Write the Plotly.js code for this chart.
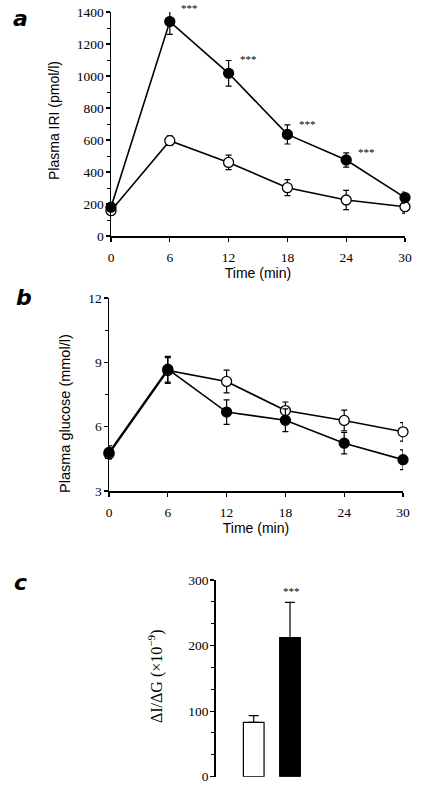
<!DOCTYPE html>
<html>
<head>
<meta charset="utf-8">
<script src="https://cdn.plot.ly/plotly-3.0.1.min.js"></script>
<style>html,body{margin:0;padding:0;background:#fff;}#chart{width:440px;height:790px;}</style>
</head>
<body>
<div id="chart"></div>
<script>
// ---- data ----
const timeMin = [0, 6, 12, 18, 24, 30];
const timeTicks = [0, 6, 12, 18, 24, 30];

const iriOpen = [158, 596, 460, 302, 225, 183];
const iriOpenErr = [15, 30, 45, 50, 60, 40];
const iriFilled = [180, 1340, 1017, 635, 475, 240];
const iriFilledErr = [20, 80, 80, 60, 45, 35];
const iriSignificant = [false, true, true, true, true, false];

const gluOpen = [4.73, 8.62, 8.11, 6.75, 6.29, 5.76];
const gluOpenErr = [0.2, 0.6, 0.53, 0.4, 0.48, 0.43];
const gluFilled = [4.8, 8.68, 6.68, 6.30, 5.23, 4.46];
const gluFilledErr = [0.3, 0.6, 0.57, 0.53, 0.5, 0.46];

const barGroups = [1, 2];
const ratioValues = [83, 212];
const ratioErr = [10, 54];
const ratioSignificant = [false, true];

// ---- helpers ----
const W = 440, H = 790;
const px = v => v / W;
const py = v => 1 - v / H;
const serif = '"Liberation Serif", serif';
const sans = '"Liberation Sans", Arial, sans-serif';

// panel a geometry (pixels)
const aTop = 12, aBottom = 236, aMax = 1400;
const aPxPerUnit = (aBottom - aTop) / aMax;

function seriesTrace(x, y, err, filled, xa, ya) {
  return {
    type: 'scatter', mode: 'lines+markers', x: x, y: y,
    xaxis: xa, yaxis: ya, cliponaxis: false, showlegend: false,
    line: {color: '#000', width: 1.6},
    marker: {size: 10, color: filled ? '#000' : '#fff', line: {color: '#000', width: 1.3}},
    error_y: {type: 'data', array: err, visible: true, color: '#000', thickness: 1.2, width: 3}
  };
}

const data = [
  seriesTrace(timeMin, iriOpen, iriOpenErr, false, 'x', 'y'),
  seriesTrace(timeMin, iriFilled, iriFilledErr, true, 'x', 'y'),
  seriesTrace(timeMin, gluOpen, gluOpenErr, false, 'x2', 'y2'),
  seriesTrace(timeMin, gluFilled, gluFilledErr, true, 'x2', 'y2'),
  {
    type: 'bar', x: barGroups, y: ratioValues, xaxis: 'x3', yaxis: 'y3', width: 0.57,
    showlegend: false, cliponaxis: false,
    marker: {color: ['#fff', '#000'], line: {color: '#000', width: 1.2}},
    error_y: {type: 'data', symmetric: false, array: ratioErr, arrayminus: [0, 0], visible: true,
              color: '#000', thickness: 1.2, width: 5}
  }
];

const tickFont = {family: serif, size: 13.5, color: '#000'};
const baseX = {
  showgrid: false, zeroline: false, showline: true, linecolor: '#000', linewidth: 1.5,
  ticks: 'outside', ticklen: 4, tickwidth: 1.2, tickcolor: '#000', tickfont: tickFont,
  ticklabelstandoff: 4,
  tickvals: timeTicks, range: [0, 30], fixedrange: true
};
const baseY = {
  showgrid: false, zeroline: false, showline: true, linecolor: '#000', linewidth: 1.5,
  ticks: 'outside', ticklen: 4, tickwidth: 1.2, tickcolor: '#000', tickfont: tickFont,
  ticklabelstandoff: -1,
  fixedrange: true
};

const annotations = [];
// panel letters
[['a', 20, 18], ['b', 24, 297], ['c', 20, 582]].forEach(([t, x, y]) => {
  annotations.push({text: '<b><i>' + t + '</i></b>', xref: 'paper', yref: 'paper', x: px(x), y: py(y),
    showarrow: false, xanchor: 'center', yanchor: 'middle',
    font: {family: 'DejaVu Sans, sans-serif', size: 22, color: '#000'}});
});
// y titles
annotations.push({text: 'Plasma IRI (pmol/l)', xref: 'paper', yref: 'paper', x: px(54), y: py(121),
  textangle: -90, showarrow: false, xanchor: 'center', yanchor: 'middle', font: {family: sans, size: 14, color: '#000'}});
annotations.push({text: 'Plasma glucose (mmol/l)', xref: 'paper', yref: 'paper', x: px(65), y: py(414),
  textangle: -90, showarrow: false, xanchor: 'center', yanchor: 'middle', font: {family: sans, size: 14.5, color: '#000'}});
annotations.push({text: 'ΔI/ΔG (×10<sup>−9</sup>)', xref: 'paper', yref: 'paper', x: px(155), y: py(676),
  textangle: -90, showarrow: false, xanchor: 'center', yanchor: 'middle', font: {family: serif, size: 16, color: '#000'}});
// significance stars (anchored at the mean, lifted by the error bar height)
timeMin.forEach((t, i) => {
  if (iriSignificant[i]) {
    annotations.push({text: '***', xref: 'x', yref: 'y', x: t, y: iriFilled[i],
      xshift: 20, yshift: iriFilledErr[i] * aPxPerUnit + 1, showarrow: false, xanchor: 'center', yanchor: 'middle',
      font: {family: serif, size: 11, color: '#000'}});
  }
});
barGroups.forEach((g, i) => {
  if (ratioSignificant[i]) {
    annotations.push({text: '***', xref: 'x3', yref: 'y3', x: g, y: ratioValues[i] + ratioErr[i],
      xshift: 1, yshift: 11, showarrow: false, xanchor: 'center', yanchor: 'middle',
      font: {family: serif, size: 11, color: '#000'}});
  }
});

const layout = {
  width: W, height: H, margin: {l: 0, r: 0, t: 0, b: 0},
  paper_bgcolor: '#fff', plot_bgcolor: 'rgba(0,0,0,0)', showlegend: false,
  xaxis: Object.assign({}, baseX, {domain: [px(111), px(405)], anchor: 'y',
    title: {text: 'Time (min)', font: {family: sans, size: 14, color: '#000'}, standoff: 4}}),
  yaxis: Object.assign({}, baseY, {domain: [py(aBottom), py(aTop)], anchor: 'x', range: [0, aMax], dtick: 200, tick0: 0,
    minor: {dtick: 100, ticks: 'outside', ticklen: 3, tickcolor: '#000', tickwidth: 1}}),
  xaxis2: Object.assign({}, baseX, {domain: [px(109), px(403)], anchor: 'y2',
    title: {text: 'Time (min)', font: {family: sans, size: 14, color: '#000'}, standoff: 3}}),
  yaxis2: Object.assign({}, baseY, {domain: [py(491), py(298)], anchor: 'x2', range: [3, 12], dtick: 3, tick0: 3,
    minor: {dtick: 1.5, ticks: 'outside', ticklen: 3, tickcolor: '#000', tickwidth: 1}}),
  xaxis3: {domain: [px(215.7), px(324.6)], anchor: 'y3', range: [-0.047, 2.953], visible: false, fixedrange: true},
  yaxis3: Object.assign({}, baseY, {domain: [py(776.7), py(580)], anchor: 'x3', range: [0, 300], dtick: 100, tick0: 0,
    minor: {dtick: 100 / 3, ticks: 'outside', ticklen: 3, tickcolor: '#000', tickwidth: 1}}),
  annotations: annotations
};

Plotly.newPlot('chart', data, layout, {displayModeBar: false, staticPlot: true});
</script>
</body>
</html>
